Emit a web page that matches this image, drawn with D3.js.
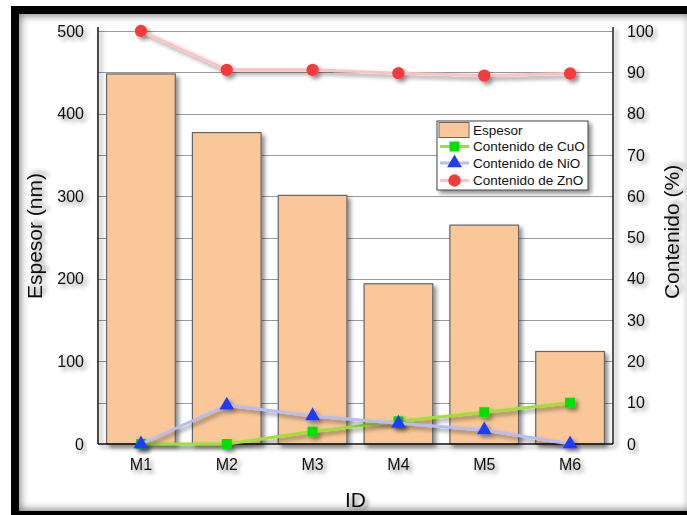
<!DOCTYPE html>
<html>
<head>
<meta charset="utf-8">
<script src="https://cdn.jsdelivr.net/npm/d3@7"></script>
<style>
  html, body { margin: 0; padding: 0; background: #fff; }
  svg { display: block; }
  text { font-family: "Liberation Sans", Arial, sans-serif; fill: #111; }
</style>
</head>
<body>
<svg id="chart" width="687" height="515"></svg>
<script>
// Sample identifiers and measurements
const ids = ["M1", "M2", "M3", "M4", "M5", "M6"];
const espesor = [448, 377, 301, 194, 265, 112];      // thickness, nm
const cuo = [0, 0, 3.0, 5.5, 7.7, 10.0];             // CuO content, %
const nio = [0, 9.4, 6.8, 5.0, 3.4, 0];              // NiO content, %
const zno = [100, 90.6, 90.6, 89.8, 89.2, 89.7];     // ZnO content, %
const leftTicks = [0, 100, 200, 300, 400, 500];
const rightTicks = [0, 10, 20, 30, 40, 50, 60, 70, 80, 90, 100];

const svg = d3.select("#chart");
const W = 687, H = 515;
const plot = { left: 98, right: 613, top: 31, bottom: 444 };

const defs = svg.append("defs");
const shadow = defs.append("filter").attr("id", "shadow")
  .attr("x", "-20%").attr("y", "-20%").attr("width", "150%").attr("height", "150%");
shadow.append("feDropShadow").attr("dx", 3).attr("dy", 3)
  .attr("stdDeviation", 2).attr("flood-color", "#000").attr("flood-opacity", 0.45);
const blur = defs.append("filter").attr("id", "frameBlur")
  .attr("x", "-10%").attr("y", "-10%").attr("width", "120%").attr("height", "120%");
blur.append("feGaussianBlur").attr("stdDeviation", 4);
defs.append("clipPath").attr("id", "inner")
  .append("rect").attr("x", 19).attr("y", 14).attr("width", W).attr("height", 497);

// Page background and black frame with a soft inner shade
svg.append("rect").attr("width", W).attr("height", H).attr("fill", "#fff");
svg.append("g").attr("clip-path", "url(#inner)")
  .append("rect").attr("x", 15).attr("y", 10).attr("width", 680).attr("height", 505)
  .attr("fill", "none").attr("stroke", "#000").attr("stroke-opacity", 0.55)
  .attr("stroke-width", 10).attr("filter", "url(#frameBlur)");
svg.append("rect").attr("x", 15).attr("y", 10).attr("width", 680).attr("height", 505)
  .attr("fill", "none").attr("stroke", "#000").attr("stroke-width", 8);

// Scales
const x = d3.scaleBand().domain(ids).range([plot.left, plot.right])
  .paddingInner(0.2).paddingOuter(0.1);
const yL = d3.scaleLinear().domain([0, 500]).range([plot.bottom, plot.top]);
const yR = d3.scaleLinear().domain([0, 100]).range([plot.bottom, plot.top]);
const cx = d => x(d) + x.bandwidth() / 2;

// Horizontal gridlines at each right-axis tick
svg.append("g").selectAll("line").data(rightTicks.filter(t => t > 0)).join("line")
  .attr("x1", plot.left).attr("x2", plot.right)
  .attr("y1", d => Math.round(yR(d)) + 0.5).attr("y2", d => Math.round(yR(d)) + 0.5)
  .attr("stroke", "#9a9a9a").attr("stroke-width", 1);

// Thickness bars
svg.append("g").selectAll("rect").data(ids).join("rect")
  .attr("x", d => x(d)).attr("width", x.bandwidth())
  .attr("y", (d, i) => yL(espesor[i]))
  .attr("height", (d, i) => yL(0) - yL(espesor[i]))
  .attr("fill", "#fac898").attr("stroke", "#666").attr("stroke-width", 1.2)
  .attr("filter", "url(#shadow)");

// Axis lines
const axisLines = svg.append("g").attr("filter", "url(#shadow)");
axisLines.append("line").attr("x1", plot.left).attr("x2", plot.left)
  .attr("y1", plot.top - 4).attr("y2", plot.bottom).attr("stroke", "#111").attr("stroke-width", 1.5);
axisLines.append("line").attr("x1", plot.right).attr("x2", plot.right)
  .attr("y1", plot.top - 4).attr("y2", plot.bottom).attr("stroke", "#222").attr("stroke-width", 1.5);
axisLines.append("line").attr("x1", plot.left).attr("x2", plot.right)
  .attr("y1", plot.bottom).attr("y2", plot.bottom).attr("stroke", "#111").attr("stroke-width", 1.5);

// Axes (labels only; the lines are drawn above)
const styleAxis = g => {
  g.select(".domain").remove();
  g.selectAll("text").style("font-family", '"Liberation Sans", Arial, sans-serif')
    .style("font-size", "16px").attr("fill", "#111").attr("filter", "url(#shadow)");
};
svg.append("g").attr("transform", `translate(${plot.left},0)`)
  .call(d3.axisLeft(yL).tickValues(leftTicks).tickSize(0).tickPadding(14))
  .call(styleAxis);
svg.append("g").attr("transform", `translate(${plot.right},0)`)
  .call(d3.axisRight(yR).tickValues(rightTicks).tickSize(0).tickPadding(14))
  .call(styleAxis);
svg.append("g").attr("transform", `translate(0,${plot.bottom})`)
  .call(d3.axisBottom(x).tickSize(0).tickPadding(15))
  .call(styleAxis);

// Content series
const series = [
  { name: "Contenido de CuO", values: cuo, line: "#9be236", marker: "#00e000", shape: d3.symbolSquare, size: 100 },
  { name: "Contenido de NiO", values: nio, line: "#b6bcf4", marker: "#1f3cff", shape: d3.symbolTriangle, size: 95 },
  { name: "Contenido de ZnO", values: zno, line: "#ffc2c2", marker: "#f53a3a", shape: d3.symbolCircle, size: 120 }
];
const line = d3.line().x((d, i) => cx(ids[i])).y(d => yR(d));
series.forEach(s => {
  const g = svg.append("g").attr("filter", "url(#shadow)");
  g.append("path").attr("d", line(s.values)).attr("fill", "none")
    .attr("stroke", s.line).attr("stroke-width", 3);
  g.selectAll("path.m").data(s.values).join("path").attr("class", "m")
    .attr("transform", (d, i) => `translate(${cx(ids[i])},${yR(d)})`)
    .attr("d", d3.symbol().type(s.shape).size(s.size)())
    .attr("fill", s.marker);
});

// Legend
const lg = svg.append("g").attr("transform", "translate(437,121)");
lg.append("rect").attr("width", 151).attr("height", 69).attr("fill", "#fff")
  .attr("stroke", "#444").attr("stroke-width", 1).attr("filter", "url(#shadow)");
const rowY = [9, 25.5, 42, 59.5];
lg.append("rect").attr("x", 2).attr("y", rowY[0] - 7.5).attr("width", 30).attr("height", 15)
  .attr("fill", "#fac898").attr("stroke", "#666");
lg.append("text").attr("x", 36).attr("y", rowY[0]).attr("dy", "0.35em")
  .style("font-size", "13.5px").text("Espesor");
series.forEach((s, i) => {
  const yy = rowY[i + 1];
  lg.append("line").attr("x1", 3).attr("x2", 32).attr("y1", yy).attr("y2", yy)
    .attr("stroke", s.line).attr("stroke-width", 3);
  lg.append("path").attr("transform", `translate(17.5,${yy})`)
    .attr("d", d3.symbol().type(s.shape).size(s.size)()).attr("fill", s.marker);
  lg.append("text").attr("x", 36).attr("y", yy).attr("dy", "0.35em")
    .style("font-size", "13.5px").text(s.name);
});

// Axis titles
svg.append("text").attr("transform", "translate(42,236) rotate(-90)")
  .attr("text-anchor", "middle").style("font-size", "21px").attr("filter", "url(#shadow)")
  .text("Espesor (nm)");
svg.append("text").attr("transform", "translate(679,232) rotate(-90)")
  .attr("text-anchor", "middle").style("font-size", "21px").attr("filter", "url(#shadow)")
  .text("Contenido (%)");
svg.append("text").attr("x", (plot.left + plot.right) / 2).attr("y", 507)
  .attr("text-anchor", "middle").style("font-size", "21px").attr("filter", "url(#shadow)")
  .text("ID");
</script>
</body>
</html>
